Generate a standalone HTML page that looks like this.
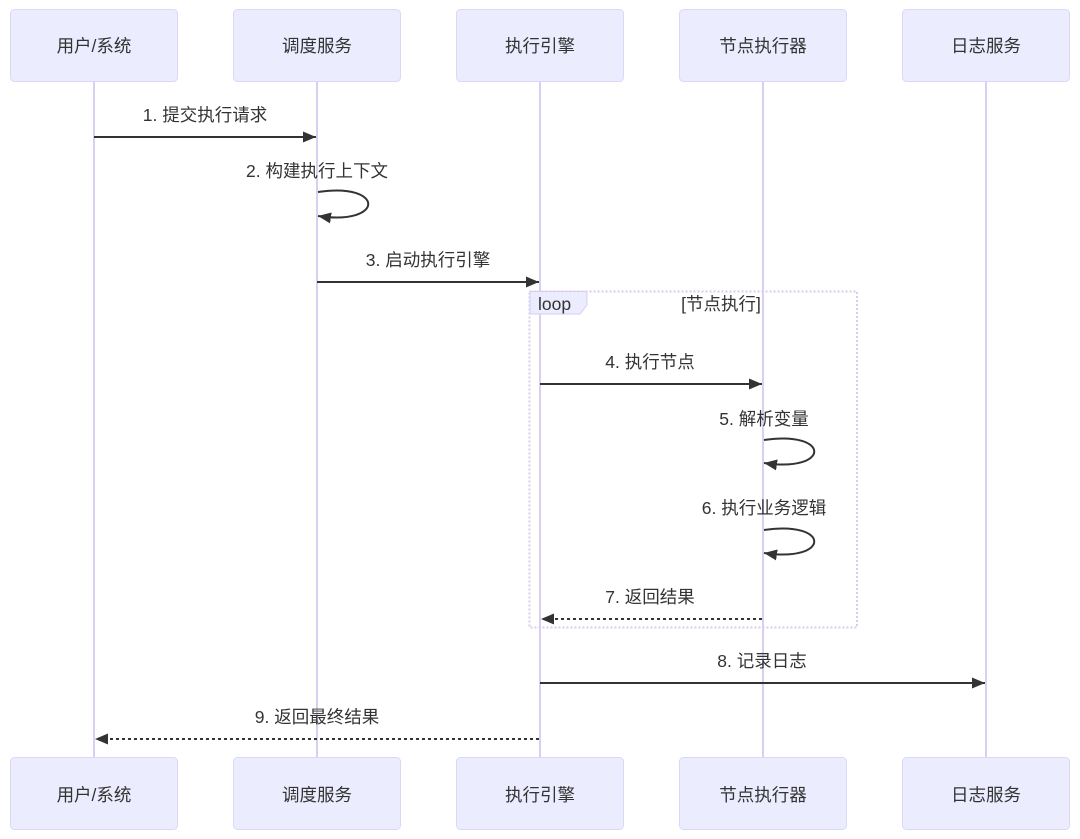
<!DOCTYPE html>
<html>
<head>
<meta charset="utf-8">
<style>
  html,body{margin:0;padding:0;background:#fff;}
  svg{display:block;}
  text{font-family:"Liberation Sans","Noto Sans CJK SC",sans-serif;fill:#333;}
</style>
</head>
<body>
<svg width="1080" height="839" viewBox="0 0 1080 839" xmlns="http://www.w3.org/2000/svg">
  <defs>
    <marker id="ah" markerWidth="13" markerHeight="11" refX="13" refY="5.5" orient="auto" markerUnits="userSpaceOnUse">
      <path d="M0,0 L13,5.5 L0,11 Z" fill="#333"/>
    </marker>
  </defs>

  <!-- lifelines -->
  <g stroke="#DACEF3" stroke-width="2">
    <line x1="94" y1="81" x2="94" y2="757"/>
    <line x1="317" y1="81" x2="317" y2="757"/>
    <line x1="540" y1="81" x2="540" y2="757"/>
    <line x1="763" y1="81" x2="763" y2="757"/>
    <line x1="986" y1="81" x2="986" y2="757"/>
  </g>

  <!-- actor boxes -->
  <g fill="#ECECFF" stroke="#DDD7F6" stroke-width="1">
    <rect x="10.5" y="9.5" width="167" height="72" rx="4"/>
    <rect x="233.5" y="9.5" width="167" height="72" rx="4"/>
    <rect x="456.5" y="9.5" width="167" height="72" rx="4"/>
    <rect x="679.5" y="9.5" width="167" height="72" rx="4"/>
    <rect x="902.5" y="9.5" width="167" height="72" rx="4"/>
    <rect x="10.5" y="757.5" width="167" height="72" rx="4"/>
    <rect x="233.5" y="757.5" width="167" height="72" rx="4"/>
    <rect x="456.5" y="757.5" width="167" height="72" rx="4"/>
    <rect x="679.5" y="757.5" width="167" height="72" rx="4"/>
    <rect x="902.5" y="757.5" width="167" height="72" rx="4"/>
  </g>
  <g font-size="17.5" text-anchor="middle" dominant-baseline="central">
    <text x="94" y="46">用户/系统</text>
    <text x="317" y="46">调度服务</text>
    <text x="540" y="46">执行引擎</text>
    <text x="763" y="46">节点执行器</text>
    <text x="986" y="46">日志服务</text>
    <text x="94" y="795">用户/系统</text>
    <text x="317" y="795">调度服务</text>
    <text x="540" y="795">执行引擎</text>
    <text x="763" y="795">节点执行器</text>
    <text x="986" y="795">日志服务</text>
  </g>

  <!-- loop frame -->
  <rect x="529.5" y="291.5" width="327.5" height="336" fill="none" stroke="#D6CCF2" stroke-width="2" stroke-dasharray="2,2"/>
  <path d="M530,291.5 L587,291.5 L587,305 L580,314 L530,314 Z" fill="#ECECFF" stroke="#D6CCF2" stroke-width="1"/>
  <text x="538" y="304" font-size="17.5" dominant-baseline="central">loop</text>
  <text x="721" y="304" font-size="17.5" text-anchor="middle" dominant-baseline="central">[节点执行]</text>

  <!-- message labels -->
  <g font-size="17.5" text-anchor="middle" dominant-baseline="central">
    <text x="205" y="115">1. 提交执行请求</text>
    <text x="317" y="171">2. 构建执行上下文</text>
    <text x="428" y="260">3. 启动执行引擎</text>
    <text x="650" y="362">4. 执行节点</text>
    <text x="764" y="419">5. 解析变量</text>
    <text x="764" y="508">6. 执行业务逻辑</text>
    <text x="650" y="597">7. 返回结果</text>
    <text x="762" y="661">8. 记录日志</text>
    <text x="317" y="717">9. 返回最终结果</text>
  </g>

  <!-- messages -->
  <g stroke="#333" stroke-width="2" fill="none">
    <line x1="94" y1="137" x2="316" y2="137" marker-end="url(#ah)"/>
    <path d="M318,192 C385,182 385,226 318,216" marker-end="url(#ah)"/>
    <line x1="317" y1="282" x2="539" y2="282" marker-end="url(#ah)"/>
    <line x1="540" y1="384" x2="762" y2="384" marker-end="url(#ah)"/>
    <path d="M764,440 C831,430 831,473 764,463" marker-end="url(#ah)"/>
    <path d="M764,530 C831,520 831,563 764,553" marker-end="url(#ah)"/>
    <line x1="762" y1="619" x2="541" y2="619" stroke-dasharray="3,3" marker-end="url(#ah)"/>
    <line x1="540" y1="683" x2="985" y2="683" marker-end="url(#ah)"/>
    <line x1="539" y1="739" x2="95" y2="739" stroke-dasharray="3,3" marker-end="url(#ah)"/>
  </g>
</svg>
</body>
</html>
